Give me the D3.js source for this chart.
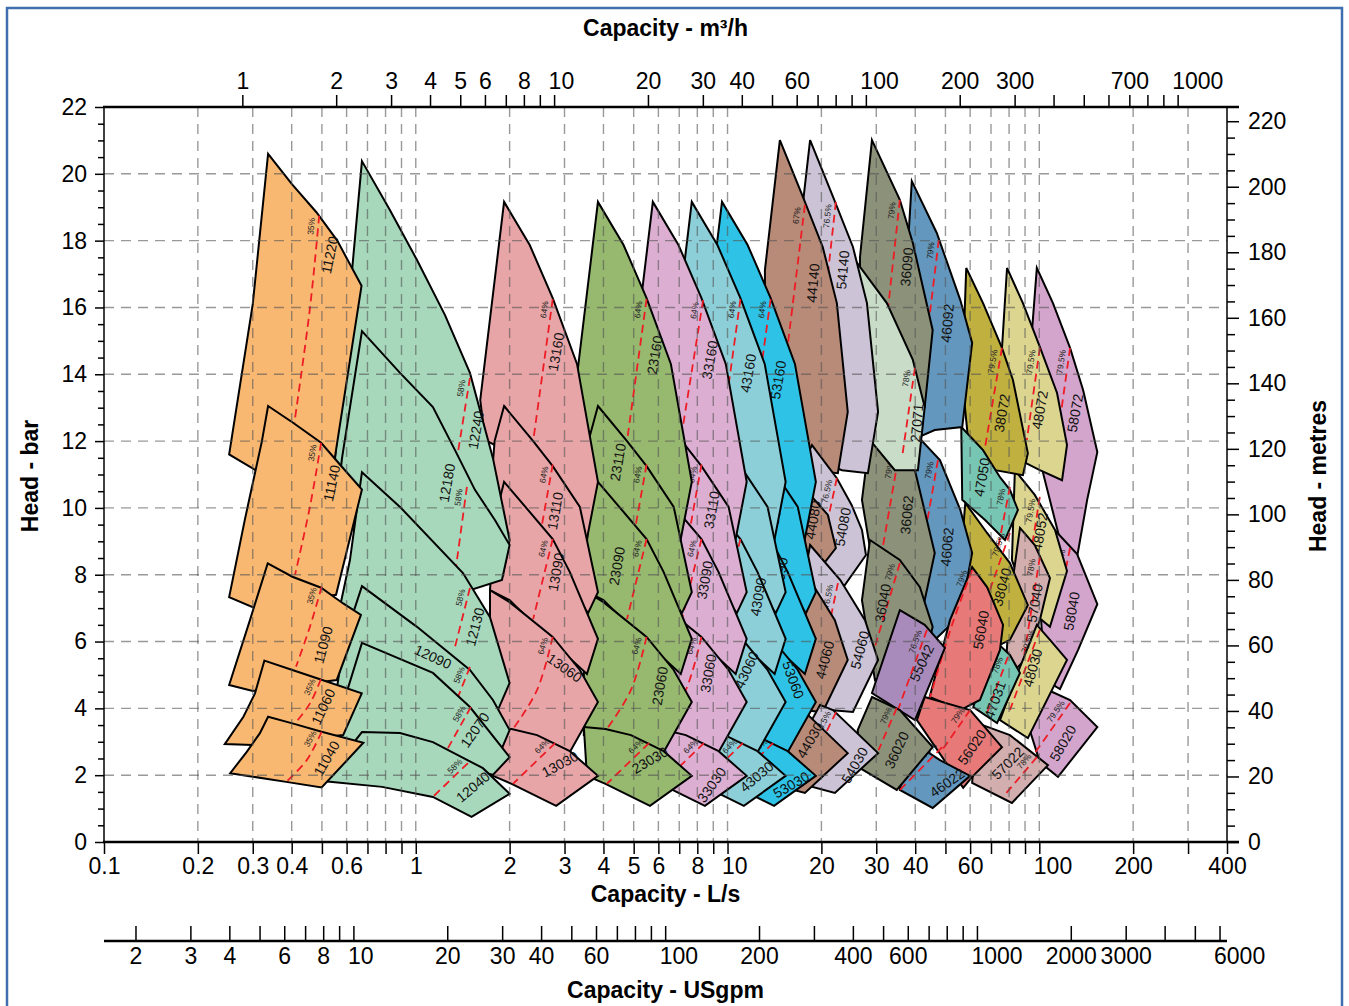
<!DOCTYPE html>
<html><head><meta charset="utf-8">
<script src="https://cdn.jsdelivr.net/npm/d3@7"></script>
<style>
body{margin:0;background:#fff;}
svg text{font-family:"Liberation Sans",Arial,Helvetica,sans-serif;}
</style></head><body>
<svg id="c" width="1349" height="1006"></svg>
<script>
// ---------- axis tick data ----------
const lsTicks=[0.1,0.2,0.3,0.4,0.5,0.6,0.7,0.8,0.9,1,2,3,4,5,6,7,8,9,10,20,30,40,50,60,70,80,90,100,200,300,400];
const lsLabels=[0.1,0.2,0.3,0.4,0.6,1,2,3,4,5,6,8,10,20,30,40,60,100,200,400];
const m3hTicks=[1,2,3,4,5,6,7,8,9,10,20,30,40,50,60,70,80,90,100,200,300,400,500,600,700,800,900,1000];
const m3hLabels=[1,2,3,4,5,6,8,10,20,30,40,60,100,200,300,700,1000];
const gpmTicks=[2,3,4,5,6,7,8,9,10,20,30,40,50,60,70,80,90,100,200,300,400,500,600,700,800,900,1000,2000,3000,4000,5000,6000];
const gpmLabels=[2,3,4,6,8,10,20,30,40,60,100,200,400,600,1000,2000,3000,6000];
const barTicks=[0,0.5,1,1.5,2,2.5,3,3.5,4,4.5,5,5.5,6,6.5,7,7.5,8,8.5,9,9.5,10,10.5,11,11.5,12,12.5,13,13.5,14,14.5,15,15.5,16,16.5,17,17.5,18,18.5,19,19.5,20,20.5,21,21.5,22];
const barLabels=[0,2,4,6,8,10,12,14,16,18,20,22];
const metreTicks=[0,5,10,15,20,25,30,35,40,45,50,55,60,65,70,75,80,85,90,95,100,105,110,115,120,125,130,135,140,145,150,155,160,165,170,175,180,185,190,195,200,205,210,215,220];
const metreLabels=[0,20,40,60,80,100,120,140,160,180,200,220];
const gridBar=[2,4,6,8,10,12,14,16,18,20];
// labels set with their leading "1" on the tick
const leftSetLabels=[10,100,1000,6000];

// ---------- pump tiles: outlines [L/s, bar] ----------
const tileOutline={
"11220":[[0.336,20.6],[0.40,19.7],[0.48,18.85],[0.56,18.0],[0.67,16.65],[0.55,11.5],[0.31,11.1],[0.252,11.6],[0.30,16.1]],
"11140":[[0.336,13.05],[0.404,12.55],[0.497,11.95],[0.571,11.3],[0.672,10.55],[0.555,7.4],[0.30,7.03],[0.252,7.33],[0.283,9.65],[0.321,12.0]],
"11090":[[0.335,8.34],[0.402,7.94],[0.497,7.61],[0.585,7.14],[0.667,6.8],[0.558,4.85],[0.30,4.52],[0.252,4.7],[0.294,6.65]],
"11060":[[0.327,5.43],[0.402,5.15],[0.493,4.87],[0.671,4.45],[0.585,3.2],[0.30,2.9],[0.244,2.93],[0.28,3.75],[0.305,4.45]],
"11040":[[0.336,3.75],[0.402,3.55],[0.499,3.3],[0.679,2.97],[0.499,1.63],[0.384,1.8],[0.254,2.06],[0.287,2.7],[0.316,3.25]],
"12240":[[0.672,20.38],[0.826,18.92],[1.009,17.42],[1.241,15.77],[1.492,14.04],[1.768,11.49],[2.0,9.04],[1.9,7.99],[1.492,8.44],[1.031,9.64],[0.571,10.83],[0.551,11.49]],
"12180":[[0.672,15.29],[0.89,14.04],[1.135,13.02],[1.336,11.73],[1.548,10.54],[1.794,9.64],[2.0,8.89],[1.89,7.84],[1.492,7.54],[1.031,8.44],[0.551,9.64],[0.58,11.49]],
"12130":[[0.672,11.07],[0.89,10.03],[1.417,8.05],[1.73,6.73],[2.0,4.76],[1.834,3.95],[1.492,4.25],[1.031,5.75],[0.551,6.35],[0.615,8.44]],
"12090":[[0.672,7.66],[1.009,6.44],[1.492,5.15],[1.768,4.25],[2.0,3.35],[1.862,2.66],[1.492,3.05],[0.89,4.25],[0.551,4.25],[0.59,6.05]],
"12070":[[0.672,5.96],[1.135,5.06],[1.492,4.04],[2.0,2.54],[1.768,2.01],[1.492,2.16],[0.89,2.45],[0.551,2.45],[0.59,4.25]],
"12040":[[0.672,3.29],[0.89,3.26],[1.135,2.99],[1.642,2.21],[2.0,1.44],[1.51,0.75],[1.135,1.35],[0.78,1.65],[0.53,1.80],[0.458,1.83],[0.571,2.45]],
"13160":[[1.92,19.16],[2.32,17.87],[2.75,16.28],[3.29,14.31],[3.84,10.78],[3.54,9.07],[2.69,10.24],[1.93,11.73],[1.67,12.03],[1.61,13.23]],
"13110":[[1.92,13.05],[2.38,12.0],[2.75,11.25],[3.36,10.03],[3.84,7.48],[3.57,6.85],[2.69,8.44],[1.93,9.64],[1.73,10.24],[1.79,12.0]],
"13090":[[1.92,10.78],[2.75,9.07],[3.12,8.08],[3.84,6.08],[3.54,5.03],[2.69,6.05],[2.0,7.24],[1.73,7.54],[1.79,9.64]],
"13060":[[1.73,7.54],[2.0,7.18],[2.75,6.14],[3.36,5.15],[3.84,4.19],[3.08,2.6],[2.5,3.05],[2.0,3.2],[1.73,3.2]],
"13030":[[1.73,3.44],[2.03,3.38],[2.45,3.2],[3.12,2.72],[3.84,1.98],[2.82,1.08],[2.03,1.74],[1.77,1.98]],
"23160":[[3.84,19.16],[4.64,17.87],[5.5,16.28],[6.58,14.31],[7.68,10.78],[7.08,9.07],[5.38,10.24],[3.86,11.73],[3.34,12.03],[3.22,13.23]],
"23110":[[3.84,13.05],[4.76,12.0],[5.5,11.25],[6.72,10.03],[7.68,7.48],[7.14,6.85],[5.38,8.44],[3.86,9.64],[3.46,10.24],[3.58,12.0]],
"23090":[[3.84,10.78],[5.5,9.07],[6.24,8.08],[7.68,6.08],[7.08,5.03],[5.38,6.05],[4.0,7.24],[3.46,7.54],[3.58,9.64]],
"23060":[[3.46,7.54],[4.0,7.18],[5.5,6.14],[6.72,5.15],[7.68,4.19],[6.16,2.6],[5.0,3.05],[4.0,3.2],[3.46,3.2]],
"23030":[[3.46,3.44],[4.06,3.38],[4.9,3.2],[6.24,2.72],[7.68,1.98],[5.64,1.08],[4.06,1.74],[3.54,1.98]],
"33160":[[5.76,19.16],[6.96,17.87],[8.25,16.28],[9.87,14.31],[11.52,10.78],[10.62,9.07],[8.07,10.24],[5.79,11.73],[5.01,12.03],[4.83,13.23]],
"33110":[[5.76,13.05],[7.14,12.0],[8.25,11.25],[10.08,10.03],[11.52,7.48],[10.71,6.85],[8.07,8.44],[5.79,9.64],[5.19,10.24],[5.37,12.0]],
"33090":[[5.76,10.78],[8.25,9.07],[9.36,8.08],[11.52,6.08],[10.62,5.03],[8.07,6.05],[6.0,7.24],[5.19,7.54],[5.37,9.64]],
"33060":[[5.19,7.54],[6.0,7.18],[8.25,6.14],[10.08,5.15],[11.52,4.19],[9.24,2.6],[7.5,3.05],[6.0,3.2],[5.19,3.2]],
"33030":[[5.19,3.44],[6.09,3.38],[7.35,3.2],[9.36,2.72],[11.52,1.98],[8.46,1.08],[6.09,1.74],[5.31,1.98]],
"43160":[[7.68,19.16],[9.28,17.87],[11.0,16.28],[13.16,14.31],[15.36,10.78],[14.16,9.07],[10.76,10.24],[7.72,11.73],[6.68,12.03],[6.44,13.23]],
"43110":[[7.68,13.05],[9.52,12.0],[11.0,11.25],[13.44,10.03],[15.36,7.48],[14.28,6.85],[10.76,8.44],[7.72,9.64],[6.92,10.24],[7.16,12.0]],
"43090":[[7.68,10.78],[11.0,9.07],[12.48,8.08],[15.36,6.08],[14.16,5.03],[10.76,6.05],[8.0,7.24],[6.92,7.54],[7.16,9.64]],
"43060":[[6.92,7.54],[8.0,7.18],[11.0,6.14],[13.44,5.15],[15.36,4.19],[12.32,2.6],[10.0,3.05],[8.0,3.2],[6.92,3.2]],
"43030":[[6.92,3.44],[8.12,3.38],[9.8,3.2],[12.48,2.72],[15.36,1.98],[11.28,1.08],[8.12,1.74],[7.08,1.98]],
"53160":[[9.6,19.16],[11.6,17.87],[13.75,16.28],[16.45,14.31],[19.2,10.78],[17.7,9.07],[13.45,10.24],[9.65,11.73],[8.35,12.03],[8.05,13.23]],
"53110":[[9.6,13.05],[11.9,12.0],[13.75,11.25],[16.8,10.03],[19.2,7.48],[17.85,6.85],[13.45,8.44],[9.65,9.64],[8.65,10.24],[8.95,12.0]],
"53090":[[9.6,10.78],[13.75,9.07],[15.6,8.08],[19.2,6.08],[17.7,5.03],[13.45,6.05],[10.0,7.24],[8.65,7.54],[8.95,9.64]],
"53060":[[8.65,7.54],[10.0,7.18],[13.75,6.14],[16.8,5.15],[19.2,4.19],[15.4,2.6],[12.5,3.05],[10.0,3.2],[8.65,3.2]],
"53030":[[8.65,3.44],[10.15,3.38],[12.25,3.2],[15.6,2.72],[19.2,1.98],[14.1,1.08],[10.15,1.74],[8.85,1.98]],
"44140":[[14.72,21.01],[17.45,19.31],[20.2,17.81],[22.42,16.13],[24.3,12.87],[22.59,11.04],[18.66,11.13],[15.28,11.43],[13.18,12.63],[13.18,17.12]],
"44080":[[14.86,11.88],[17.84,10.54],[20.98,9.79],[22.26,8.80],[19.07,7.99],[16.44,7.99],[14.19,8.44],[13.67,10.24]],
"44060":[[14.72,8.89],[18.39,7.84],[22.09,6.64],[24.3,5.45],[20.2,3.89],[17.07,3.95],[14.19,4.25],[13.67,7.24]],
"44030":[[15.85,4.1],[17.45,3.95],[24.3,2.66],[17.71,1.47],[14.19,1.71],[13.47,2.90]],
"54140":[[18.4,21.01],[21.8,19.31],[25.25,17.81],[28.0,16.13],[30.4,12.87],[28.2,11.04],[23.3,11.13],[19.1,11.43],[16.5,12.63],[16.5,17.12]],
"54080":[[18.66,11.88],[22.42,10.89],[25.0,10.09],[26.99,9.34],[27.8,8.59],[23.78,7.69],[20.52,7.69],[17.07,9.64],[17.07,11.13]],
"54060":[[18.4,8.89],[23.0,7.84],[27.6,6.64],[30.4,5.45],[25.25,3.89],[21.3,3.95],[17.75,4.25],[17.1,7.24]],
"54030":[[19.8,4.1],[21.8,3.95],[30.4,2.66],[22.1,1.47],[17.75,1.71],[16.85,2.90]],
"36090":[[29.06,21.01],[35.7,19.22],[39.3,17.93],[45.5,15.32],[42.9,13.02],[35.7,13.23],[29.06,12.33],[26.6,13.23],[26.6,17.51]],
"36062":[[29.06,12.63],[35.2,12.03],[39.9,11.13],[46.2,8.65],[42.9,7.24],[35.7,7.84],[29.06,8.44],[26.99,10.24]],
"36040":[[28.63,9.04],[35.7,8.44],[41.4,7.63],[45.5,6.44],[42.9,5.45],[35.7,5.45],[29.7,4.85],[26.99,7.24]],
"36020":[[29.06,4.34],[35.7,3.95],[45.5,2.84],[34.9,1.56],[26.6,2.21],[26.15,3.35]],
"27071":[[24.66,17.63],[32.43,16.13],[39.3,14.43],[42.9,13.02],[40.8,11.13],[34.4,11.13],[28.63,12.03],[25.58,13.23],[24.3,16.22]],
"46092":[[39.0,19.78],[46.9,18.23],[55.8,16.22],[60.9,14.94],[56.6,12.42],[46.2,12.33],[39.0,12.03],[37.0,16.22]],
"46062":[[39.0,12.33],[48.0,11.43],[55.8,9.94],[60.9,8.65],[55.8,6.79],[46.2,6.05],[38.4,6.05],[37.0,10.24]],
"46022":[[38.4,3.05],[48.0,2.45],[60.0,1.98],[45.5,1.02],[35.7,1.56]],
"55042":[[35.7,6.94],[42.9,6.5],[49.8,5.81],[39.9,3.65],[29.06,4.46]],
"56040":[[60.9,8.23],[68.0,7.63],[76.5,6.5],[74.8,5.75],[64.5,4.25],[55.8,3.95],[44.5,4.34],[51.7,6.64]],
"56020":[[42.9,4.34],[60.0,3.95],[75.9,2.84],[60.9,1.95],[57.0,1.62],[40.5,3.65]],
"38072":[[58.3,17.18],[66.0,16.13],[75.9,14.79],[82.3,13.83],[91.9,11.64],[88.6,10.98],[72.1,11.13],[60.0,11.43],[56.6,13.83]],
"38040":[[57.9,10.15],[68.0,9.25],[80.5,8.35],[91.9,7.09],[80.5,6.05],[69.4,5.75],[60.0,7.24],[56.6,9.04]],
"47050":[[56.2,12.42],[66.0,11.73],[74.8,10.92],[80.5,10.54],[85.4,9.94],[77.6,9.04],[67.0,9.64],[56.6,10.24]],
"47031":[[73.2,5.96],[80.5,5.6],[86.7,5.06],[73.2,3.56],[61.4,4.04],[67.0,5.15]],
"48072":[[78.8,17.18],[88.6,16.13],[100.4,14.82],[114.0,13.44],[122.7,11.88],[118.3,10.83],[100.4,11.13],[86.7,11.43],[74.8,13.83]],
"48052":[[83.5,11.13],[96.7,10.39],[112.3,9.34],[122.7,8.11],[108.2,6.44],[93.2,6.94],[81.7,8.44]],
"48030":[[98.2,6.5],[108.2,6.05],[122.7,5.45],[91.9,3.11],[74.8,3.65],[83.5,4.85]],
"57040":[[86.7,9.40],[96.7,8.89],[108.2,7.9],[100.4,6.64],[89.9,5.45],[77.6,4.85],[80.5,7.24]],
"57022":[[63.2,3.56],[80.5,3.2],[106.6,2.30],[81.7,1.17],[60.9,1.77]],
"58072":[[98.2,17.18],[110.6,16.13],[125.5,14.79],[138.2,13.53],[153.5,11.67],[142.4,10.24],[132.2,8.53],[116.5,9.04],[100.4,11.43],[93.2,14.43]],
"58040":[[108.2,9.49],[132.2,8.62],[153.5,7.12],[133.2,5.75],[116.5,4.58],[104.3,4.85],[100.4,7.24]],
"58020":[[106.6,4.55],[125.5,4.25],[153.5,3.44],[114.8,1.95],[100.4,2.39],[93.2,3.35]]
};

// ---------- efficiency curves [L/s, bar] ----------
const tileEff={
"11220":[[0.49,18.75],[0.458,16.0],[0.408,12.55]],
"11140":[[0.497,11.95],[0.458,10.05],[0.41,8.0]],
"11090":[[0.499,7.64],[0.458,6.45],[0.413,5.25]],
"11060":[[0.496,4.87],[0.458,4.15],[0.41,3.55]],
"11040":[[0.499,3.30],[0.447,2.45],[0.384,1.80]],
"12240":[[1.492,13.89],[1.356,11.49]],
"12180":[[1.459,10.63],[1.346,8.23]],
"12130":[[1.492,7.6],[1.336,5.84]],
"12090":[[1.492,5.24],[1.366,4.34]],
"12070":[[1.502,4.04],[1.268,2.81]],
"12040":[[1.47,2.36],[1.135,1.35]],
"13160":[[2.75,16.25],[2.38,12.0]],
"13110":[[2.75,11.3],[2.54,9.5]],
"13090":[[2.75,9.07],[2.38,6.67]],
"13060":[[2.75,6.14],[2.45,4.55],[2.05,3.38]],
"13030":[[2.8,2.96],[2.05,1.74]],
"23160":[[5.5,16.25],[4.76,12.0]],
"23110":[[5.5,11.3],[5.08,9.5]],
"23090":[[5.5,9.07],[4.76,6.67]],
"23060":[[5.5,6.14],[4.9,4.55],[4.1,3.38]],
"23030":[[5.6,2.96],[4.1,1.74]],
"33160":[[8.35,16.22],[7.21,12.5]],
"33110":[[8.25,11.3],[7.62,9.5]],
"33090":[[8.25,9.07],[7.14,6.67]],
"33060":[[8.25,6.14],[7.35,4.55],[6.15,3.38]],
"33030":[[8.4,2.96],[6.15,1.74]],
"43160":[[11.0,16.25],[9.52,12.0]],
"43110":[[11.0,11.3],[10.16,9.5]],
"43090":[[11.0,9.07],[9.52,6.67]],
"43060":[[11.0,6.14],[9.8,4.55],[8.2,3.38]],
"43030":[[11.2,2.96],[8.2,1.74]],
"53160":[[13.75,16.25],[11.9,12.0]],
"53110":[[13.75,11.3],[12.7,9.5]],
"53090":[[13.75,9.07],[11.9,6.67]],
"53060":[[13.75,6.14],[12.25,4.55],[10.25,3.38]],
"53030":[[14.0,2.96],[10.25,1.74]],
"44140":[[17.71,19.07],[15.62,14.91]],
"44080":[[17.84,10.54],[16.44,8.44]],
"44060":[[18.1,7.75],[16.56,6.05]],
"44030":[[17.84,3.89],[14.72,2.30]],
"54140":[[22.26,19.16],[20.98,17.0]],
"54080":[[22.42,10.89],[20.6,9.3]],
"54060":[[22.6,7.75],[20.7,6.05]],
"54030":[[22.3,3.89],[18.4,2.30]],
"36090":[[35.7,19.22],[32.67,15.92]],
"36062":[[35.2,11.43],[31.48,8.83]],
"36040":[[35.7,8.35],[29.7,5.84]],
"36020":[[34.9,4.01],[30.5,2.75]],
"27071":[[39.9,14.19],[36.3,11.52]],
"46092":[[47.6,18.02],[44.5,15.77]],
"46062":[[47.3,11.43],[43.6,9.55]],
"46022":[[48.8,2.84],[35.7,1.56]],
"55042":[[43.6,6.35],[35.2,3.95]],
"56040":[[60.9,8.14],[52.5,6.5],[44.5,4.3]],
"56020":[[60.0,3.95],[48.8,2.75]],
"38072":[[75.9,14.79],[67.0,11.82]],
"38040":[[80.5,9.25],[69.4,7.54]],
"47050":[[80.5,10.63],[69.4,7.54]],
"47031":[[79.3,5.54],[68.0,3.86]],
"48072":[[100.4,14.79],[91.2,12.03]],
"48052":[[100.4,10.33],[93.2,8.44]],
"48030":[[100.4,6.35],[80.5,3.95]],
"57040":[[100.4,8.53],[88.6,5.36]],
"57022":[[98.2,2.54],[76.5,1.35]],
"58072":[[125.5,14.79],[116.5,12.63]],
"58040":[[125.5,8.8],[120.9,8.05]],
"58020":[[125.5,4.16],[96.7,2.66]]
};

// ---------- tile label anchors [L/s, bar] ----------
const tileLabelAt={
"11220":[0.53,17.57],"11140":[0.538,10.74],"11090":[0.505,5.9],"11060":[0.505,4.05],"11040":[0.518,2.5],
"12240":[1.56,12.33],"12180":[1.26,10.75],"12130":[1.548,6.44],"12090":[1.135,5.54],"12070":[1.548,3.35],"12040":[1.526,1.65],
"13160":[2.82,14.67],"13110":[2.80,9.91],"13090":[2.82,8.08],"13060":[3.0,5.21],"13030":[2.9,2.33],
"23160":[5.85,14.58],"23110":[4.45,11.37],"23090":[4.42,8.26],"23060":[6.07,4.67],"23030":[5.64,2.45],
"33160":[8.78,14.43],"33110":[8.9,9.94],"33090":[8.46,7.84],"33060":[8.68,5.05],"33030":[8.9,1.71],
"43160":[11.65,14.03],"43110":[9.45,11.23],"43090":[12.54,7.34],"43060":[11.52,5.15],"43030":[12.4,1.95],
"53160":[14.54,13.83],"53110":[14.37,10.04],"53090":[14.73,7.94],"53060":[16.24,4.85],"53030":[16.0,1.71],
"44140":[18.8,16.73],"44080":[18.8,9.64],"44060":[20.52,5.45],"44030":[18.39,3.05],
"54140":[23.43,17.12],"54080":[23.43,9.43],"54060":[26.6,5.75],"54030":[25.58,2.30],
"36090":[37.6,17.21],"36062":[37.6,9.79],"36040":[31.48,7.15],"36020":[34.9,2.75],
"27071":[40.5,12.54],"46092":[50.7,15.53],"46062":[50.6,8.83],"46022":[50.6,1.77],
"55042":[42.0,5.36],"56040":[65.0,6.35],"56020":[60.9,2.84],
"38072":[75.9,12.84],"38040":[75.9,7.63],"47050":[65.5,10.92],"47031":[72.1,4.25],
"48072":[100.4,12.93],"48052":[100.4,9.28],"48030":[95.2,5.21],
"57040":[96.7,7.15],"57022":[79.3,2.36],
"58072":[130.2,12.84],"58040":[127,6.91],"58020":[119.1,2.96]
};
// text rotation of each tile label (style)
const tileLabelRot={
"11220":-78,"11140":-78,"11090":-75,"11060":-65,"11040":-60,
"12240":-80,"12180":-80,"12130":-75,"12090":25,"12070":-55,"12040":-40,
"13160":-80,"13110":-80,"13090":-80,"13060":35,"13030":-28,
"23160":-80,"23110":-80,"23090":-80,"23060":-80,"23030":-30,
"33160":-80,"33110":-80,"33090":-80,"33060":-80,"33030":-55,
"43160":-80,"43110":-80,"43090":-80,"43060":-65,"43030":-40,
"53160":-80,"53110":-80,"53090":-80,"53060":70,"53030":-30,
"44140":-85,"44080":-80,"44060":-75,"44030":-60,
"54140":-85,"54080":-80,"54060":-75,"54030":-60,
"36090":-85,"36062":-85,"36040":-80,"36020":-65,
"27071":-85,"46092":-85,"46062":-85,"46022":-35,
"55042":-65,"56040":-80,"56020":-55,
"38072":-80,"38040":-75,"47050":-80,"47031":-70,
"48072":-80,"48052":-80,"48030":-75,"57040":-80,"57022":-45,
"58072":-80,"58040":-80,"58020":-60
};

const familyEff={"11":"35%","12":"58%","13":"64%","23":"64%","33":"64%","43":"64%","53":"64%","44":"67%","54":"76.5%","36":"79%","27":"78%","46":"79%","55":"76.5%","56":"79%","38":"79.5%","47":"78%","48":"79.5%","57":"78%","58":"79.5%"};
const familyColor={"11":"#f9b872","12":"#a8d8bb","13":"#e8a5a7","23":"#97b86f","33":"#dcafd2","43":"#8dcfd8","53":"#2ec3e6","44":"#b88a78","54":"#ccc4d6","36":"#8c917a","27":"#c9dcc8","46":"#6397bd","55":"#a98bbb","56":"#e77a78","38":"#bfb03f","47":"#77c6b3","48":"#dcd58f","57":"#d3aeae","58":"#d3a4cc"};

// drawing order: first drawn = lowest
const drawOrder=["58072","58040","58020","48072","48052","57040","48030","57022","38072","47050","38040","47031",
"46092","46062","56040","56020","46022","36090","36062","36040","27071","55042","36020",
"54140","44140","54080","44080","54060","44060","54030","44030",
"53160","53110","53090","53060","53030","43160","43110","43090","43060","43030",
"33160","33110","33090","33060","33030","23160","23110","23090","23060","23030",
"13160","13110","13090","13060","13030","12240","12180","12130","12090","12070","12040",
"11220","11140","11090","11060","11040"];

// ---------- scales ----------
const L=104,R=1227,T=107,B=842;
const x=d3.scaleLog().domain([0.1,400]).range([L,R]);
const y=d3.scaleLinear().domain([0,22]).range([B,T]);
const xm=d3.scaleLog().domain([0.1*3.6,400*3.6]).range([L,R]);
const xg=d3.scaleLog().domain([0.1*15.8503,400*15.8503]).range([L,R]);
const ym=d3.scaleLinear().domain([0,22*10.1972]).range([B,T]);

const svg=d3.select("#c");
svg.append("rect").attr("x",7).attr("y",8).attr("width",1335).attr("height",1010)
  .attr("fill","none").attr("stroke","#3f6fae").attr("stroke-width",2.5);

svg.append("defs").append("clipPath").attr("id","clip").append("rect")
  .attr("x",L).attr("y",T).attr("width",R-L).attr("height",B-T);
const plot=svg.append("g").attr("clip-path","url(#clip)");

const closed=d3.line().x(d=>x(d[0])).y(d=>y(d[1])).curve(d3.curveLinearClosed);
const open=d3.line().x(d=>x(d[0])).y(d=>y(d[1])).curve(d3.curveCatmullRom.alpha(0.5));

drawOrder.forEach(id=>{
  const fam=id.slice(0,2);
  const g=plot.append("g");
  g.append("path").attr("d",closed(tileOutline[id]))
    .attr("fill",familyColor[fam]).attr("stroke","#000").attr("stroke-width",2)
    .attr("stroke-linejoin","miter");
  const e=tileEff[id];
  g.append("path").attr("d",open(e)).attr("fill","none")
    .attr("stroke","#ee1c25").attr("stroke-width",1.8).attr("stroke-dasharray","8,5");
  const p0=[x(e[0][0]),y(e[0][1])],p1=[x(e[1][0]),y(e[1][1])];
  const ang=Math.atan2(p0[1]-p1[1],p0[0]-p1[0])*180/Math.PI;
  g.append("text").attr("transform",`translate(${p0[0]},${p0[1]}) rotate(${ang})`)
    .attr("x",-3).attr("y",-4).attr("text-anchor","end")
    .style("font-size","8.5px").attr("fill","#222")
    .text(familyEff[fam]);
  const la=tileLabelAt[id];
  g.append("text").attr("transform",`translate(${x(la[0])},${y(la[1])}) rotate(${tileLabelRot[id]})`)
    .attr("text-anchor","middle").attr("dy","0.35em")
    .style("font-size","14px").attr("fill","#111")
    .text(id);
});

// ---------- grid (on top of tiles) ----------
const gridG=svg.append("g").attr("stroke","#555").attr("stroke-opacity",0.6)
  .attr("stroke-width",1.4).attr("stroke-dasharray","10,7").attr("fill","none");
lsTicks.filter(v=>v>0.1&&v<400).forEach(v=>{
  gridG.append("line").attr("x1",x(v)).attr("x2",x(v)).attr("y1",T).attr("y2",B);
});
gridBar.forEach(v=>{
  gridG.append("line").attr("x1",L).attr("x2",R).attr("y1",y(v)).attr("y2",y(v));
});

// ---------- axes ----------
function styleAxis(g){
  g.select(".domain").remove();
  g.selectAll(".tick line").attr("stroke","#000").attr("stroke-width",1.5);
  g.selectAll(".tick text").style("font-size","23px").attr("fill","#000");
}
function shiftPow(g){
  g.selectAll(".tick text").filter(d=>leftSetLabels.includes(d))
    .attr("text-anchor","start").attr("x",-6);
}
const fmt=arr=>d=>arr.includes(d)?String(d):"";

const gB=svg.append("g").attr("transform",`translate(0,${B})`)
  .call(d3.axisBottom(x).tickValues(lsTicks).tickFormat(fmt(lsLabels)).tickSize(12).tickPadding(4));
styleAxis(gB); shiftPow(gB);
const gT=svg.append("g").attr("transform",`translate(0,${T})`)
  .call(d3.axisTop(xm).tickValues(m3hTicks).tickFormat(fmt(m3hLabels)).tickSize(12).tickPadding(6));
styleAxis(gT); shiftPow(gT);
const gG=svg.append("g").attr("transform",`translate(0,941)`)
  .call(d3.axisTop(xg).tickValues(gpmTicks).tickFormat(fmt(gpmLabels)).tickSize(15).tickPadding(0));
styleAxis(gG); shiftPow(gG);
gG.selectAll(".tick text").attr("y",7).attr("dy","0.71em");
svg.append("line").attr("x1",L).attr("x2",R).attr("y1",941).attr("y2",941).attr("stroke","#000").attr("stroke-width",2.5);

const gL=svg.append("g").attr("transform",`translate(${L},0)`)
  .call(d3.axisLeft(y).tickValues(barTicks).tickFormat(fmt(barLabels)).tickSize(9).tickPadding(8));
styleAxis(gL);
gL.selectAll(".tick").filter(d=>!barLabels.includes(d)).select("line").attr("x2",-6);
const gR=svg.append("g").attr("transform",`translate(${R},0)`)
  .call(d3.axisRight(ym).tickValues(metreTicks).tickFormat(fmt(metreLabels)).tickSize(12).tickPadding(9));
styleAxis(gR);
gR.selectAll(".tick").filter(d=>!metreLabels.includes(d)).select("line").attr("x2",8);

// frame
svg.append("line").attr("x1",L-1).attr("x2",R+12).attr("y1",T).attr("y2",T).attr("stroke","#000").attr("stroke-width",2.5);
svg.append("line").attr("x1",L-1).attr("x2",R+12).attr("y1",B).attr("y2",B).attr("stroke","#000").attr("stroke-width",2.5);
svg.append("line").attr("x1",L).attr("x2",L).attr("y1",T).attr("y2",B).attr("stroke","#000").attr("stroke-width",1.5);
svg.append("line").attr("x1",R).attr("x2",R).attr("y1",T).attr("y2",B).attr("stroke","#000").attr("stroke-width",1.5);

// titles
function title(t,tx,ty,rot){
  svg.append("text").attr("transform",`translate(${tx},${ty}) rotate(${rot})`)
    .attr("text-anchor","middle").attr("dy","0.35em")
    .style("font-size","23px").style("font-weight","bold").text(t);
}
title("Capacity - m³/h",(L+R)/2,28,0);
title("Capacity - L/s",(L+R)/2,894,0);
title("Capacity - USgpm",(L+R)/2,990,0);
title("Head - bar",30,476,-90);
title("Head - metres",1318,476,-90);
</script></body></html>
